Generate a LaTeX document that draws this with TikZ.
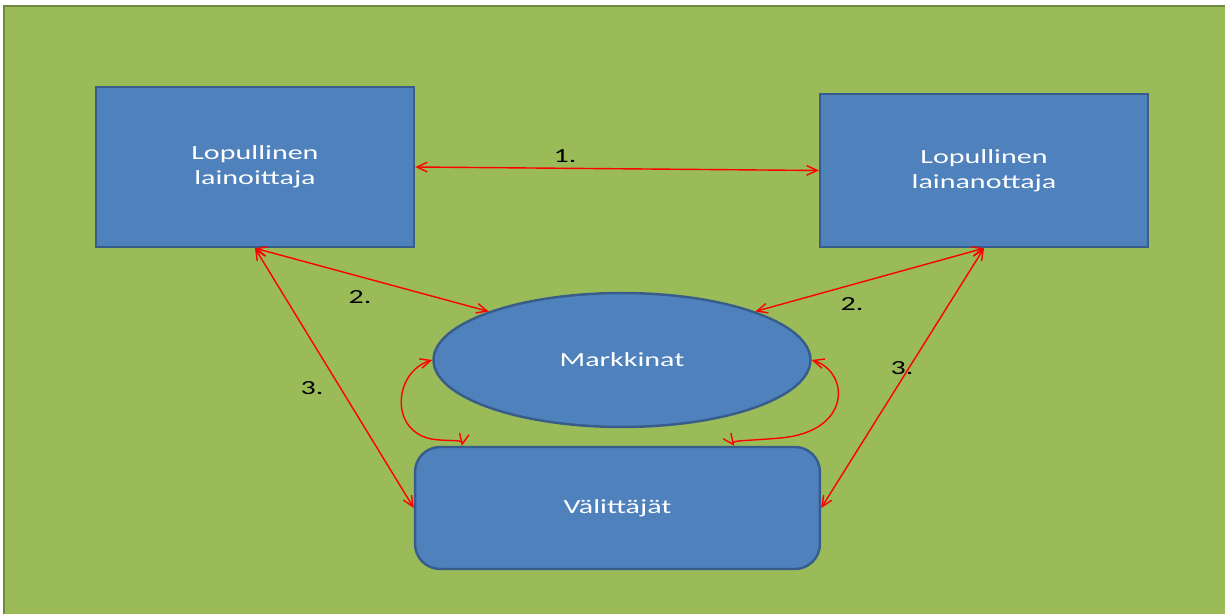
\documentclass[tikz,border=0pt]{standalone}
\usepackage{fontspec}
\newfontfamily\lainafont[FakeStretch=1.5]{Carlito}
\usepackage{tikz}
\usetikzlibrary{arrows.meta,shapes.geometric}
\definecolor{tausta}{HTML}{9BBB59}
\definecolor{taustareuna}{HTML}{71893F}
\definecolor{sininen}{HTML}{4F81BD}
\definecolor{sinireuna}{HTML}{385D8A}
\tikzset{
  solmu/.style = {align=center, inner sep=0pt, text centered, white,
    font=\lainafont\fontsize{11.4}{14.4}\selectfont,
    fill=sininen, draw=sinireuna, line width=1.4pt},
  laina_box/.style = {solmu, rectangle},% lopullinen osapuoli
  laina_ell/.style = {solmu, ellipse, minimum width=7.54cm,
    minimum height=2.68cm},% markkinat
  laina_rnd/.style = {solmu, rectangle, rounded corners=0.5cm,
    minimum width=8.1cm, minimum height=2.44cm},% valittajat
  laina_nro/.style = {font=\lainafont\fontsize{11.4}{14.4}\selectfont,
    inner sep=0pt},% numerot
  laina_arr/.style = {red, line width=0.8pt,
    {Straight Barb[length=6pt,width=5.5pt]}-{Straight Barb[length=6pt,width=5.5pt]}}
}
\begin{document}
\begin{tikzpicture}[x=0.02cm,y=-0.02cm]
\useasboundingbox (0,0) rectangle (1225,614);
\fill[tausta] (4,6) rectangle (1225,614);
\draw[taustareuna, line width=1.2pt] (4,614) -- (4,6) -- (1225,6);

\node [laina_box, minimum width=6.36cm, minimum height=3.2cm] (b1) at (255,167)
  {Lopullinen\\lainoittaja};
\node [laina_box, minimum width=6.56cm, minimum height=3.06cm] (b2) at (984,170.5)
  {Lopullinen\\lainanottaja};
\node [laina_ell] (mk) at (622,360) {Markkinat};
\node [laina_rnd] (vr) at (617.5,508) {Välittäjät};

\node [laina_nro] (n1) at (565,156) {1.};
\node [laina_nro] (n2a) at (360,297) {2.};
\node [laina_nro] (n2b) at (852,304) {2.};
\node [laina_nro] (n3a) at (312,388) {3.};
\node [laina_nro] (n3b) at (902,368) {3.};

\coordinate (vr_l) at ([xshift=0.96cm]vr.north west);
\coordinate (vr_r) at ([xshift=-1.74cm]vr.north east);

\draw [laina_arr] (b1.east) -- (b2.west);
\draw [laina_arr] (b1.south) -- (mk.160);
\draw [laina_arr] (b2.south) -- (mk.20);
\draw [laina_arr] (b1.south) -- (vr.west);
\draw [laina_arr] (b2.south) -- (vr.east);
\draw [laina_arr] (mk.west) .. controls (392,372) and (388,438) .. (440,440)
  .. controls (455,441) and (463,440) .. (vr_l);
\draw [laina_arr] (mk.east) .. controls (850,372) and (852,432) .. (780,438)
  .. controls (748,441) and (730,440) .. (vr_r);
\end{tikzpicture}
\end{document}
